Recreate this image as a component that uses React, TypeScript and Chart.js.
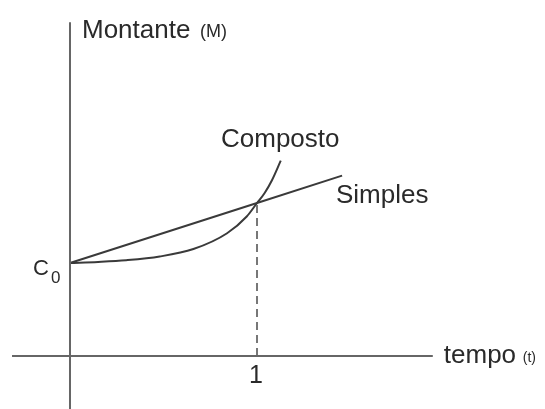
import React, { useEffect, useRef } from "react";
import { Chart, registerables } from "chart.js";

Chart.register(...registerables);

// Data (t = tempo, M = montante)
const simplesT = [0, 1, 1.455];
const simplesM = [1, 1.645, 1.94];

const compostoT = [0, 0.15, 0.3, 0.48, 0.66, 0.84, 0.945, 1.0, 1.04, 1.08, 1.127];
const compostoM = [1.0, 1.012, 1.03, 1.07, 1.15, 1.32, 1.5, 1.645, 1.75, 1.89, 2.1];

const xAxisT = [-0.31, 1.94];
const xAxisM = [0, 0];
const yAxisT = [0, 0];
const yAxisM = [-0.6, 3.59];
const guideT = [1, 1];
const guideM = [0, 1.645];

const tickT = 1;
const tickLabel = "1";
const c0Label = "C";
const c0Sub = "0";

const toPts = (xs: number[], ys: number[]) => xs.map((x, i) => ({ x, y: ys[i] }));

const labelsPlugin = {
  id: "labels",
  afterDraw(chart: any) {
    const ctx = chart.ctx;
    const xs = chart.scales.x;
    const ys = chart.scales.y;
    const px0 = xs.getPixelForValue(0);
    const py0 = ys.getPixelForValue(0);
    const pc0 = ys.getPixelForValue(1);
    const font = (s: number) => `${s}px "Liberation Sans", Arial, sans-serif`;
    ctx.save();
    ctx.fillStyle = "#2a2a2a";
    ctx.textBaseline = "alphabetic";
    // Montante (M)
    ctx.textAlign = "left";
    ctx.font = font(26);
    ctx.fillText("Montante", px0 + 12, 38);
    ctx.font = font(18);
    ctx.fillText("(M)", px0 + 130, 37);
    // tempo (t)
    ctx.font = font(26);
    ctx.fillText("tempo", xs.getPixelForValue(1.94) + 11, py0 + 7);
    ctx.font = font(14);
    ctx.fillText("(t)", xs.getPixelForValue(1.94) + 90, py0 + 6);
    // tick 1
    ctx.textAlign = "center";
    ctx.font = font(25);
    ctx.fillText(tickLabel, xs.getPixelForValue(tickT) - 1, py0 + 27);
    // C0
    ctx.textAlign = "left";
    ctx.font = font(22);
    ctx.fillText(c0Label, px0 - 37, pc0 + 12);
    ctx.font = font(17);
    ctx.fillText(c0Sub, px0 - 19, pc0 + 20);
    // Series labels
    ctx.font = font(26);
    ctx.fillText("Composto", 221, 147);
    ctx.fillText("Simples", 336, 203);
    ctx.restore();
  },
};

export default function App() {
  const ref = useRef<HTMLCanvasElement>(null);
  useEffect(() => {
    if (!ref.current) return;
    const axisStyle = { borderColor: "#666", borderWidth: 2, pointRadius: 0, fill: false };
    const chart = new Chart(ref.current, {
      type: "line",
      data: {
        datasets: [
          { data: toPts(xAxisT, xAxisM), ...axisStyle },
          { data: toPts(yAxisT, yAxisM), ...axisStyle },
          {
            data: toPts(guideT, guideM),
            borderColor: "#777",
            borderWidth: 2,
            borderDash: [8, 5],
            pointRadius: 0,
          },
          {
            data: toPts(simplesT, simplesM),
            borderColor: "#3a3a3a",
            borderWidth: 2,
            pointRadius: 0,
          },
          {
            data: toPts(compostoT, compostoM),
            borderColor: "#3a3a3a",
            borderWidth: 2,
            pointRadius: 0,
            cubicInterpolationMode: "monotone",
          },
        ],
      },
      options: {
        animation: false,
        responsive: false,
        maintainAspectRatio: false,
        layout: { padding: 0 },
        plugins: { legend: { display: false }, tooltip: { enabled: false } },
        scales: {
          x: { type: "linear", min: -0.3743, max: 2.54, display: false },
          y: { type: "linear", min: -0.57, max: 3.828, display: false },
        },
      },
      plugins: [labelsPlugin],
    } as any);
    return () => chart.destroy();
  }, []);
  return (
    <div style={{ position: "absolute", left: 0, top: 0, width: 545, height: 409, background: "#fff" }}>
      <canvas ref={ref} width={545} height={409} style={{ display: "block" }} />
    </div>
  );
}
